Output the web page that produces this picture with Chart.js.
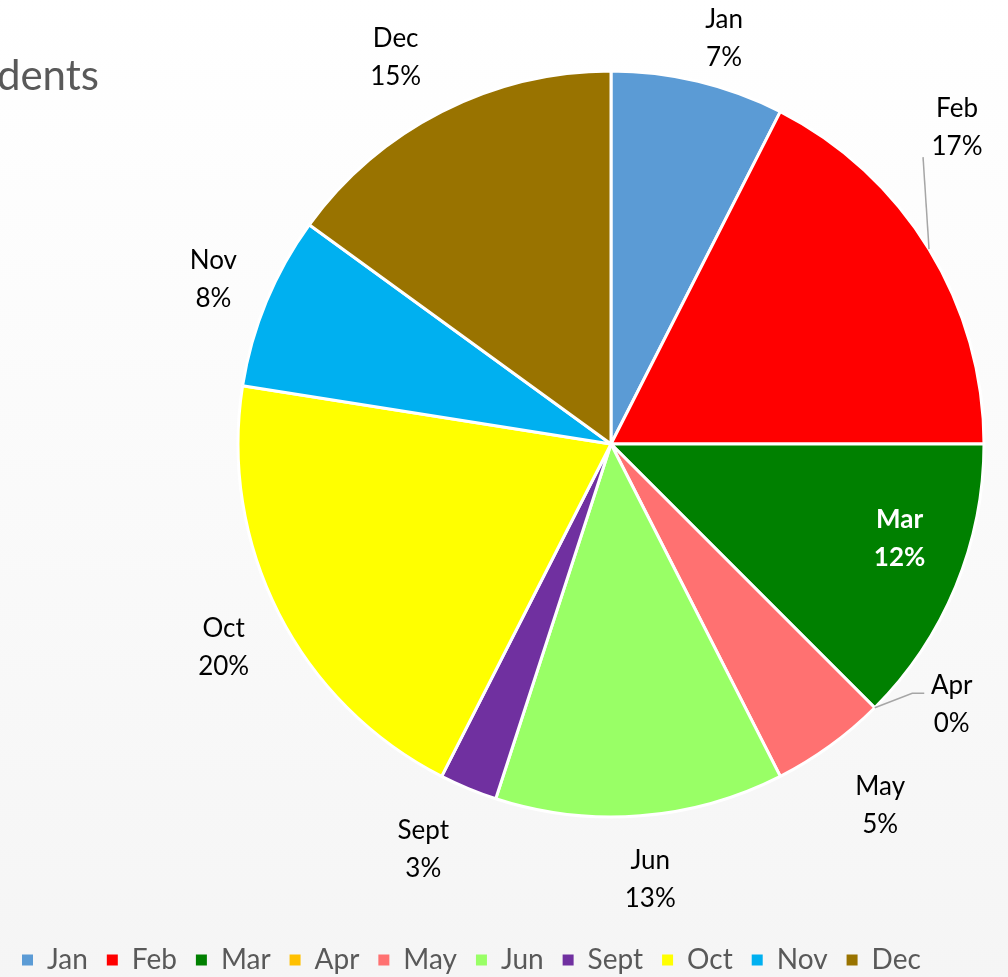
<!DOCTYPE html>
<html><head><meta charset="utf-8">
<script src="https://cdn.jsdelivr.net/npm/chart.js@4/dist/chart.umd.min.js"></script>
<style>
html,body{margin:0;padding:0;width:1008px;height:977px;overflow:hidden;background:#ffffff;}
#wrap{position:absolute;left:0;top:-39px;width:1300px;height:1023px;}
canvas{display:block;}
</style></head>
<body><div id="wrap"><canvas id="c" width="1300" height="1023" style="width:1300px;height:1023px"></canvas></div>
<script>
// ---- data ----
const categories = ['Jan','Feb','Mar','Apr','May','Jun','Sept','Oct','Nov','Dec'];
const counts = [3, 7, 5, 0, 2, 5, 1, 8, 3, 6];
const shownPercents = [7, 17, 12, 0, 5, 13, 3, 20, 8, 15];
const sliceColors = ['#5B9BD5','#FF0000','#008000','#FFC000','#FF7171','#99FF66','#7030A0','#FFFF00','#00B0F0','#997300'];
const titleText = 'dents';

// ---- layout / style (not data) ----
const CANVAS_TOP = -39;
const FONT = 'Lato, "Open Sans", sans-serif';
const labelOffsets = [[26,-44],[28,-122],[-56,-49],[77,-4],[50,59],[10,63],[-45,60],[-55,33],[-53,-23],[-46,-55]];
const leaderLines = {1: [[-34,30]], 3: [[-39.5,-10.5],[-27.5,-10.5]]};
const insideLabels = {2: true};

const bgPlugin = {
  id: 'bg',
  beforeDraw(chart){
    const ctx = chart.ctx, h = chart.height, w = chart.width;
    const g = ctx.createLinearGradient(0, -CANVAS_TOP, 0, h);
    g.addColorStop(0, '#ffffff');
    g.addColorStop(1, '#f5f5f5');
    ctx.save(); ctx.fillStyle = g; ctx.fillRect(0,0,w,h); ctx.restore();
  }
};

const labelPlugin = {
  id: 'sliceLabels',
  afterDatasetsDraw(chart){
    const ctx = chart.ctx;
    const meta = chart.getDatasetMeta(0);
    ctx.save();
    meta.data.forEach((arc, i) => {
      const p = arc.getProps(['x','y','startAngle','endAngle','outerRadius'], true);
      const mid = (p.startAngle + p.endAngle) / 2;
      const ax = p.x + Math.cos(mid) * p.outerRadius;
      const ay = p.y + Math.sin(mid) * p.outerRadius;
      const cx = ax + labelOffsets[i][0];
      const cy = ay + labelOffsets[i][1];
      if (leaderLines[i]) {
        ctx.beginPath();
        ctx.strokeStyle = '#A6A6A6';
        ctx.lineWidth = 1.5;
        ctx.moveTo(ax, ay);
        leaderLines[i].forEach(pt => ctx.lineTo(cx + pt[0], cy + pt[1]));
        ctx.stroke();
      }
      const inside = !!insideLabels[i];
      ctx.font = (inside ? 'bold ' : '') + '26px ' + FONT;
      ctx.fillStyle = inside ? '#ffffff' : '#000000';
      ctx.textAlign = 'center';
      ctx.textBaseline = 'alphabetic';
      ctx.fillText(categories[i], cx, cy - 9.7);
      ctx.fillText(shownPercents[i] + '%', cx, cy + 28.3);
    });
    ctx.restore();
  },
  afterDraw(chart){
    const ctx = chart.ctx;
    ctx.save();
    ctx.font = '42px ' + FONT;
    ctx.fillStyle = '#595959';
    ctx.textAlign = 'right';
    ctx.textBaseline = 'alphabetic';
    ctx.fillText(titleText, 99, 90 - CANVAS_TOP);
    ctx.restore();
  }
};

new Chart(document.getElementById('c'), {
  type: 'pie',
  data: {
    labels: categories,
    datasets: [{
      data: counts,
      backgroundColor: sliceColors,
      borderColor: '#ffffff',
      borderWidth: 3,
      radius: 373
    }]
  },
  options: {
    responsive: false,
    animation: false,
    layout: { padding: { left: 3, right: 81, top: 0, bottom: 0 } },
    plugins: {
      tooltip: { enabled: false },
      legend: {
        position: 'bottom',
        align: 'start',
        labels: {
          boxWidth: 11,
          boxHeight: 11,
          padding: 19,
          color: '#595959',
          font: { family: FONT, size: 28 },
          generateLabels(chart){
            const items = Chart.overrides.pie.plugins.legend.labels.generateLabels(chart);
            items.forEach(it => { it.lineWidth = 0; it.strokeStyle = 'rgba(0,0,0,0)'; });
            return items;
          }
        }
      }
    }
  },
  plugins: [bgPlugin, labelPlugin]
});
</script>
</body></html>
